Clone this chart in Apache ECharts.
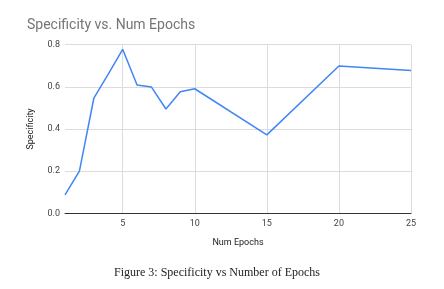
<!DOCTYPE html>
<html><head><meta charset="utf-8">
<script src="https://cdn.jsdelivr.net/npm/echarts@6/dist/echarts.min.js"></script>
<style>html,body{margin:0;padding:0;background:#fff}#c{width:444px;height:289px}</style>
</head><body><div id="c"></div>
<script>
const epochs = [1, 2, 3, 4, 5, 6, 7, 8, 9, 10, 15, 20, 25];
const specificity = [0.087, 0.200, 0.546, 0.660, 0.778, 0.609, 0.599, 0.495, 0.577, 0.591, 0.372, 0.699, 0.677];
const xTicks = [5, 10, 15, 20, 25];

const chart = echarts.init(document.getElementById('c'), null, {renderer: 'canvas'});
chart.setOption({
  animation: false,
  backgroundColor: '#ffffff',
  title: [{
    text: 'Specificity vs. Num Epochs', left: 27, top: 18, padding: 0,
    textStyle: {fontFamily: 'Roboto, Arial, sans-serif', fontSize: 14, fontWeight: 'normal', color: '#757575'}
  }, {
    text: 'Figure 3: Specificity vs Number of Epochs', left: 114, top: 267, padding: 0,
    textStyle: {fontFamily: '"Liberation Serif", "Times New Roman", serif', fontSize: 12, fontWeight: 'normal', color: '#222'}
  }],
  grid: {left: 65, right: 33, top: 44.7, bottom: 75.7, containLabel: false},
  xAxis: {
    type: 'value', min: 1, max: 25,
    name: 'Num Epochs', nameLocation: 'middle', nameGap: 25,
    nameTextStyle: {fontFamily: 'Roboto, Arial, sans-serif', fontSize: 9, color: '#222'},
    axisLine: {show: true, lineStyle: {color: '#333', width: 1}},
    axisTick: {show: false, customValues: xTicks},
    axisLabel: {customValues: xTicks, fontFamily: 'Roboto, Arial, sans-serif', fontSize: 9, color: '#444', margin: 6},
    splitLine: {show: true, customValues: xTicks, lineStyle: {color: '#dcdcdc', width: 1}}
  },
  yAxis: {
    type: 'value', min: 0, max: 0.8, interval: 0.2,
    name: 'Specificity', nameLocation: 'middle', nameGap: 30, nameRotate: 90,
    nameTextStyle: {fontFamily: 'Roboto, Arial, sans-serif', fontSize: 9, color: '#222'},
    axisLine: {show: false},
    axisTick: {show: false},
    axisLabel: {fontFamily: 'Roboto, Arial, sans-serif', fontSize: 9, color: '#444', margin: 5,
      formatter: v => v.toFixed(1)},
    splitLine: {show: true, lineStyle: {color: '#dcdcdc', width: 1}}
  },
  series: [{
    type: 'line', data: epochs.map((e, i) => [e, specificity[i]]),
    showSymbol: false, symbol: 'none',
    lineStyle: {color: '#4285f4', width: 1.5},
    z: 3
  }]
});
</script></body></html>
